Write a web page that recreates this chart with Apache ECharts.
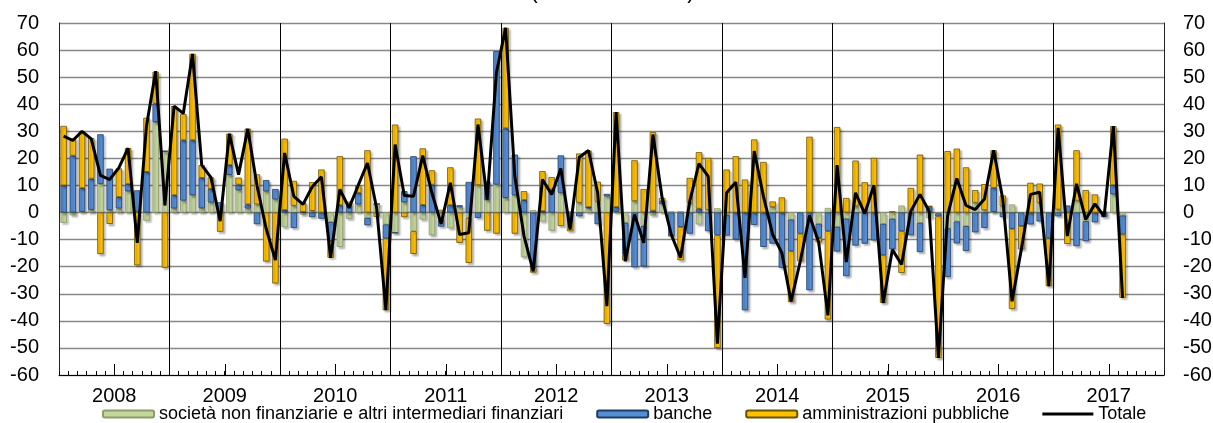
<!DOCTYPE html>
<html>
<head>
<meta charset="utf-8">
<script src="https://cdn.jsdelivr.net/npm/echarts@6/dist/echarts.min.js"></script>
<style>
html,body{margin:0;padding:0;background:#fff;}
#chart{width:1213px;height:423px;}
</style>
</head>
<body>
<div id="chart"></div>
<script>
// ---- data ----
const years = ['2008','2009','2010','2011','2012','2013','2014','2015','2016','2017'];
const monthNames = ['gen','feb','mar','apr','mag','giu','lug','ago','set','ott','nov','dic'];

const societa = [
 -3.8,-1,0.3,1,10.6,0.9,1.5,7.9,0.3,-3,33.4,22.4,
 1.5,4.4,6.4,1.6,3.7,0,13.9,8.3,1.5,3,7.8,4.8,
 -5.4,2.5,-0.8,0.6,0,-3.5,-12.7,-2.3,3,-2,3.2,-4.4,
 -7.5,3.8,-6.9,-2.6,-8.4,-2.6,-5.8,2,-2,10.1,4.6,10.3,
 5.4,6.4,-16.5,0.9,-3.3,-6.7,7.3,0.5,3.6,1.5,4,6,
 0.3,-3.8,4.2,-5,-1.1,3.2,0.4,0.5,3.6,-4.4,1,1.6,
 -1,0,0,0,0,2,0,-2.6,0,0,-4.2,1.7,
 -5.3,-2.3,2.3,0,0,-4.2,-2.3,2.6,0,-3.8,-2,-0.3,
 -5.8,-3.3,-5,3.6,0.9,0.2,2.3,3,0,0,3.6,0,
 1.1,0,4.4,-3.2,0,0,6.7,-1.1
];
const banche = [
 10,21,8.7,11.5,18.3,15.3,4.2,2.6,7.9,15,6.8,0.5,
 4.9,22.3,20.3,11.2,5,3.8,3.6,2,1.5,-4.3,4.2,3.9,
 0.9,-5.7,0.2,-1.7,-2.3,-7,2.7,2.7,4.3,-2.7,0,-5.2,
 0,4.1,20.8,2.8,10.3,-2.6,2.7,0.7,11.3,-2,7,49.3,
 25.7,15,4.6,-20.4,0.5,8.5,13.8,-3.6,-1.4,0.5,-4.3,0.9,
 1.7,-11.7,-20.2,-14.9,0.7,1,-8.6,-5.3,-7.8,1.4,-6.9,-8.4,
 -7.5,-10,-36.1,-4.6,-12.7,-11.5,-20.4,-11.7,-7.8,-28.7,-5.2,-6.9,
 -9.1,-21.2,-12.2,-11.5,-10.3,-11.6,-11.3,-6.9,-8.4,-10.8,2.3,-1.1,
 -18,-8.1,-9.2,-7.3,-5.7,8.9,-1.7,-6,-5,-4.4,-3.3,-9.6,
 -1.4,2.6,-12.4,-7.4,-3.6,-1.7,3.4,-7
];
const amministrazioni = [
 22,6.5,21,15,-15.3,-4.2,10.6,13.3,-19.5,20,11.8,-20.4,
 32.9,9.7,31.9,4.7,4.3,-7.1,11.6,2.6,28,11.1,-18.1,-26.2,
 26.4,9.2,3.6,10.6,15.9,-6.2,18.1,1.3,2.8,23,-1.6,-26.5,
 32.5,-1.7,-8.4,20.9,5.3,1,14,-11.2,-16.6,24.6,-6.7,-7.8,
 37.1,-7.8,3.3,-1.8,14.8,4.6,-5,-3.3,18.2,20.9,7.4,-41.1,
 35.1,-2.2,15.1,8.7,29,1.2,0,-12.3,9.2,20.9,19.2,-41.6,
 15.9,20.8,12.2,27,18.7,2.1,5.6,-18.8,-10.2,28,-1.6,-32.6,
 31.6,5.4,16.9,11.2,20.2,-17.6,0.5,-15.4,9.1,21.4,0,-52.3,
 22.7,23.6,16.7,4.7,9.6,13.9,4,-29.6,-8.6,11,7.1,-17.6,
 31.4,-11.6,18.6,8.3,6.7,0.3,21.8,-23.4
];
const totale = [
 28.2,26.6,30,27.2,13.7,12.2,16.5,23.8,-11.2,32,52.2,2.6,
 39.3,36.6,58.6,17.5,13,-3.2,29.1,14,30.9,10,-6,-17.6,
 22,6,3,9.5,13.2,-16.7,8.5,1.7,10.1,18.3,1.6,-36,
 25.1,6.3,6,21,7.2,-4.2,11,-8.1,-7.5,32.5,4.8,51.6,
 68.2,13.4,-8.7,-21.7,12.2,6.7,16.3,-6.3,20.4,22.9,7.3,-34.6,
 37.1,-18,-0.7,-11.2,28.8,5.4,-8.2,-16.7,4.2,18.1,13.4,-48.4,
 7.3,11.2,-24.1,22.7,6,-8.1,-14.9,-32.8,-18,-1.1,-11,-38,
 17.5,-18.3,7.3,-0.4,10.1,-33.4,-13.7,-19.2,0.5,6.7,0.5,-53.7,
 -1.1,12.6,2.6,1.1,5,23,4.8,-32.8,-13.7,6.7,7.5,-27.2,
 31.3,-8.7,10.6,-2.6,3.2,-1.4,31.9,-31.5
];
const yTicks = {min:-60, max:70, step:10};

// month categories (one per month of each year)
const categories = [];
years.forEach(y => monthNames.forEach(m => categories.push(m + ' ' + y)));

const FONT = 'Arial, "Liberation Sans", sans-serif';
const shadow = {shadowColor:'rgba(0,0,0,0.28)', shadowOffsetX:2, shadowOffsetY:2, shadowBlur:2};

const chart = echarts.init(document.getElementById('chart'), null, {renderer:'canvas'});
chart.setOption({
  animation:false,
  backgroundColor:'#fff',
  textStyle:{fontFamily:FONT},
  graphic:[{
    type:'text', left:530, top:-20,
    style:{text:'(miliardi di euro)', font:'23px ' + FONT, fill:'#000'}
  }],
  grid:{left:59,right:49,top:23,bottom:48,containLabel:false,outerBoundsMode:'none'},
  legend:{
    left:102, top:405, padding:0,
    itemWidth:51, itemHeight:7, itemGap:33,
    textStyle:{fontSize:18,color:'#000',fontFamily:FONT},
    data:[
      'società non finanziarie e altri intermediari finanziari',
      'banche',
      'amministrazioni pubbliche',
      {name:'Totale', icon:'path://M0,0H51V3H0Z', itemStyle:{color:'#000',borderWidth:0,shadowBlur:0,shadowOffsetX:0,shadowOffsetY:0}}
    ]
  },
  xAxis:[
    {
      type:'category', data:categories, boundaryGap:true, position:'bottom',
      axisLine:{show:true,onZero:false,lineStyle:{color:'#000',width:1}},
      axisTick:{show:true,inside:true,interval:0,length:4,lineStyle:{color:'#000',width:1}},
      axisLabel:{show:false},
      splitLine:{show:false}
    },
    {
      type:'category', data:years, boundaryGap:true, position:'bottom',
      axisLine:{show:false,onZero:false},
      axisTick:{show:true,inside:true,alignWithLabel:true,length:11,lineStyle:{color:'#000',width:1}},
      axisLabel:{show:true,interval:0,fontSize:20,color:'#000',margin:11},
      splitLine:{show:true,interval:0,lineStyle:{color:'#000',width:1}}
    }
  ],
  yAxis:[
    {
      type:'value', position:'left', min:yTicks.min, max:yTicks.max, interval:yTicks.step,
      axisLine:{show:true,lineStyle:{color:'#222',width:1}},
      axisTick:{show:false},
      axisLabel:{fontSize:20,color:'#000',margin:20},
      splitLine:{show:true,lineStyle:{color:'#878787',width:1.3}}
    },
    {
      type:'value', position:'right', min:yTicks.min, max:yTicks.max, interval:yTicks.step,
      axisLine:{show:true,lineStyle:{color:'#222',width:1}},
      axisTick:{show:false},
      axisLabel:{fontSize:20,color:'#000',margin:19},
      splitLine:{show:false}
    }
  ],
  series:[
    {
      name:'società non finanziarie e altri intermediari finanziari', type:'bar', stack:'tot',
      xAxisIndex:0, yAxisIndex:0, data:societa, barWidth:6.4,
      itemStyle:Object.assign({color:'#C3D69B',borderColor:'#8E9C6C',borderWidth:0.8},shadow)
    },
    {
      name:'banche', type:'bar', stack:'tot',
      xAxisIndex:0, yAxisIndex:0, data:banche, barWidth:6.4,
      itemStyle:Object.assign({color:'#558ED5',borderColor:'#1F3C66',borderWidth:0.8},shadow)
    },
    {
      name:'amministrazioni pubbliche', type:'bar', stack:'tot',
      xAxisIndex:0, yAxisIndex:0, data:amministrazioni, barWidth:6.4,
      itemStyle:Object.assign({color:'#FFC000',borderColor:'#6B5200',borderWidth:0.8},shadow)
    },
    {
      name:'Totale', type:'line', xAxisIndex:0, yAxisIndex:0, data:totale,
      symbol:'none', z:10,
      lineStyle:{color:'#000',width:3}, itemStyle:{color:'#000'}
    }
  ]
});
</script>
</body>
</html>
